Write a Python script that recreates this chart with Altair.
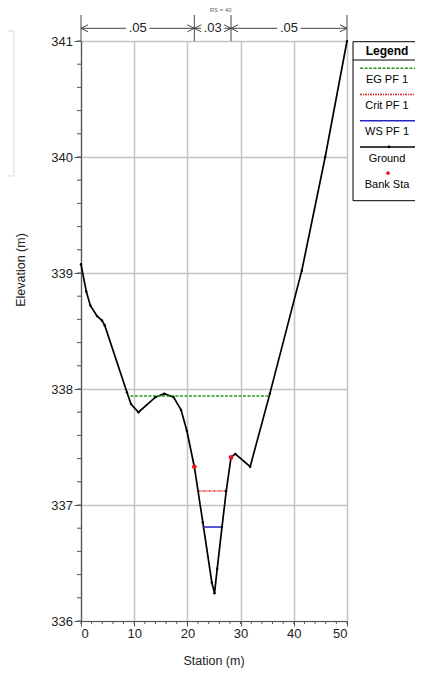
import altair as alt
import pandas as pd

# ---------------- data ----------------
station = [0, 1.0, 1.75, 3.0, 3.95, 4.45, 8.65, 9.4, 10.8, 14.0, 15.65, 17.4, 18.8,
           19.9, 21.3, 22.9, 24.6, 25.1, 25.6, 26.5, 27.3, 28.2, 29.0, 31.8, 35.5,
           41.5, 45.9, 50.0]
elevation = [339.075, 338.84, 338.72, 338.63, 338.59, 338.55, 337.97, 337.87, 337.80,
             337.93, 337.96, 337.93, 337.82, 337.64, 337.33, 336.85, 336.33, 336.24,
             336.45, 336.81, 337.12, 337.41, 337.44, 337.33, 337.96, 339.02, 340.0, 341.0]

bank_station = [21.3, 28.2]
bank_elev = [337.33, 337.41]

profile_names = ["EG PF 1", "Crit PF 1", "WS PF 1"]
profile_left = [9.3, 22.1, 22.9]
profile_right = [35.5, 27.3, 26.5]
profile_elev = [337.94, 337.12, 336.81]

n_values = [".05", ".03", ".05"]
n_bounds = [0, 21.3, 28.2, 50]
rs_label = "RS = 40"

x_ticks = [0, 10, 20, 30, 40, 50]
x_minor = [0, 2, 4, 6, 8, 10, 12, 14, 16, 18, 20, 22, 24, 26, 28, 30, 32, 34, 36, 38,
           40, 42, 44, 46, 48, 50]
y_ticks = [336, 337, 338, 339, 340, 341]
y_minor = [336.0, 336.2, 336.4, 336.6, 336.8, 337.0, 337.2, 337.4, 337.6, 337.8, 338.0,
           338.2, 338.4, 338.6, 338.8, 339.0, 339.2, 339.4, 339.6, 339.8, 340.0, 340.2,
           340.4, 340.6, 340.8, 341.0]

legend_title = "Legend"
legend_labels = ["EG PF 1", "Crit PF 1", "WS PF 1", "Ground", "Bank Sta"]

x_title = "Station (m)"
y_title = "Elevation (m)"

# ---------------- styling ----------------
FONT = "Liberation Sans"
W, H = 266, 580
GRID = "#c4c4c4"
AXC = "#555555"
TXT = "#222222"
EG_C, CRIT_C, WS_C = "#1f9a1f", "#e02020", "#2323c8"
EG_DASH, CRIT_DASH = [3, 1.5], [2, 1, 1, 1]

xs = alt.Scale(domain=[0, 50], nice=False, zero=False)
ys = alt.Scale(domain=[336, 341], nice=False, zero=False)

x_axis = alt.Axis(values=x_ticks, grid=True, gridColor=GRID, gridWidth=1.5,
                  domainColor=AXC, domainWidth=1.2, tickColor=AXC, tickSize=5,
                  labelFont=FONT, labelFontSize=13, labelColor=TXT, labelPadding=1,
                  title=None, format="d")
y_axis = alt.Axis(values=y_ticks, grid=True, gridColor=GRID, gridWidth=1.5,
                  domainColor=AXC, domainWidth=1.2, tickColor=AXC, tickSize=7,
                  labelFont=FONT, labelFontSize=13, labelColor=TXT, labelPadding=1.5,
                  title=None, format="d")


def X(f):
    return alt.X(f, scale=xs, axis=x_axis)


def Y(f):
    return alt.Y(f, scale=ys, axis=y_axis)


ground = pd.DataFrame({"st": station, "el": elevation})
banks = pd.DataFrame({"st": bank_station, "el": bank_elev})
prof = pd.DataFrame({"name": profile_names, "l": profile_left, "r": profile_right,
                     "el": profile_elev})

base_layer = alt.Chart(ground).mark_line(color="black", strokeWidth=1.7).encode(
    x=X("st:Q"), y=Y("el:Q"))
ground_pts = alt.Chart(ground).mark_point(filled=True, color="black", size=6, opacity=1).encode(
    x=X("st:Q"), y=Y("el:Q"))

minor_x = alt.Chart(pd.DataFrame({"v": x_minor})).mark_rule(color=AXC, strokeWidth=1).encode(
    x=X("v:Q"), y=alt.value(H), y2=alt.value(H + 3))
minor_y = alt.Chart(pd.DataFrame({"v": y_minor})).mark_rule(color=AXC, strokeWidth=1).encode(
    y=Y("v:Q"), x=alt.value(0), x2=alt.value(-4))


def prof_rule(i, color, dash=None):
    kw = dict(color=color, strokeWidth=1.5)
    if dash:
        kw["strokeDash"] = dash
    return alt.Chart(prof.iloc[[i]]).mark_rule(**kw).encode(
        x=X("l:Q"), x2="r:Q", y=Y("el:Q"))


eg = prof_rule(0, EG_C, EG_DASH)
crit = prof_rule(1, CRIT_C, CRIT_DASH)
ws = prof_rule(2, WS_C)

bank_pts = alt.Chart(banks).mark_point(filled=True, color="#e8141c", size=22, opacity=1).encode(
    x=X("st:Q"), y=Y("el:Q"))

# ---------------- Manning's n annotation above the plot ----------------
ARROW_Y = -12.7
GAP = 2.2
segs = []
for i in range(len(n_values)):
    a, b = n_bounds[i], n_bounds[i + 1]
    c = (a + b) / 2
    g = min(GAP, (b - a) / 2 - 0.8)
    segs.append({"a": a, "b": c - g})
    segs.append({"a": c + g, "b": b})
seg_df = pd.DataFrame(segs)
n_lines = alt.Chart(seg_df).mark_rule(color="#444444", strokeWidth=1).encode(
    x=X("a:Q"), x2="b:Q", y=alt.value(ARROW_Y))
bars = alt.Chart(pd.DataFrame({"v": n_bounds})).mark_rule(color="#444444", strokeWidth=1).encode(
    x=X("v:Q"), y=alt.value(-26), y2=alt.value(0))
n_text = alt.Chart(pd.DataFrame({
    "c": [(n_bounds[i] + n_bounds[i + 1]) / 2 for i in range(len(n_values))],
    "t": n_values})).mark_text(font=FONT, fontSize=13, color=TXT, baseline="middle").encode(
    x=X("c:Q"), y=alt.value(ARROW_Y), text="t:N")
left_arrows = alt.Chart(pd.DataFrame({"v": n_bounds[:-1]})).mark_point(
    shape="M1,-0.5L0,0L1,0.5", filled=False, color="#444444", strokeWidth=1, size=196,
    opacity=1).encode(x=X("v:Q"), y=alt.value(ARROW_Y))
right_arrows = alt.Chart(pd.DataFrame({"v": n_bounds[1:]})).mark_point(
    shape="M-1,-0.5L0,0L-1,0.5", filled=False, color="#444444", strokeWidth=1, size=196,
    opacity=1).encode(x=X("v:Q"), y=alt.value(ARROW_Y))
rs_text = alt.Chart(pd.DataFrame({"v": [(n_bounds[1] + n_bounds[2]) / 2 + 1.5], "t": [rs_label]})).mark_text(
    font=FONT, fontSize=6, color="#666666", baseline="middle").encode(
    x=X("v:Q"), y=alt.value(-31), text="t:N")

# ---------------- axis titles ----------------
one = pd.DataFrame({"t": [0]})
xt = alt.Chart(one).mark_text(text=x_title, font=FONT, fontSize=12.5, color=TXT,
                              baseline="middle").encode(x=alt.value(W / 2), y=alt.value(H + 40))
yt = alt.Chart(one).mark_text(text=y_title, font=FONT, fontSize=12.5, color=TXT,
                              baseline="middle", angle=270).encode(x=alt.value(-60), y=alt.value(229))

# faint box at far left (window artefact in reference)
faint = alt.Chart(one).mark_rect(fill="white", fillOpacity=0, stroke="#dcdcdc", strokeWidth=1).encode(
    x=alt.value(-100), x2=alt.value(-67), y=alt.value(-10), y2=alt.value(135))

# ---------------- legend box ----------------
LX0, LX1 = 272, 380
LCX = 306
STEP = 26.2
legend_box = alt.Chart(one).mark_rect(fill="white", stroke="black", strokeWidth=1).encode(
    x=alt.value(LX0), x2=alt.value(LX1), y=alt.value(0.7), y2=alt.value(159.7))
legend_sep = alt.Chart(one).mark_rule(color="black", strokeWidth=1).encode(
    x=alt.value(LX0), x2=alt.value(LX1), y=alt.value(19), y2=alt.value(19))
legend_head = alt.Chart(one).mark_text(text=legend_title, font=FONT, fontSize=12,
                                       fontWeight="bold", color="black", baseline="middle").encode(
    x=alt.value(LCX), y=alt.value(9.5))
lab_df = pd.DataFrame({"t": legend_labels,
                       "ly": [39 + i * STEP for i in range(len(legend_labels))],
                       "lx": [LCX] * len(legend_labels)})
legend_text = alt.Chart(lab_df).mark_text(font=FONT, fontSize=11, color="black",
                                          baseline="middle").encode(
    x=alt.X("lx:Q", scale=None), y=alt.Y("ly:Q", scale=None), text="t:N")


def leg_line(i, color, dash=None, width=1.5):
    kw = dict(color=color, strokeWidth=width)
    if dash:
        kw["strokeDash"] = dash
    yy = 27.3 + i * STEP
    return alt.Chart(one).mark_rule(**kw).encode(
        x=alt.value(LX0 + 7), x2=alt.value(LX1), y=alt.value(yy), y2=alt.value(yy))


leg_eg = leg_line(0, EG_C, EG_DASH)
leg_crit = leg_line(1, CRIT_C, CRIT_DASH)
leg_ws = leg_line(2, WS_C)
leg_gr = leg_line(3, "black", None, 1.5)
leg_gr_dot = alt.Chart(one).mark_point(filled=True, color="black", size=8, opacity=1).encode(
    x=alt.value(LCX + 2), y=alt.value(27.3 + 3 * STEP))
leg_bank = alt.Chart(one).mark_point(filled=True, color="#e8141c", size=14, opacity=1).encode(
    x=alt.value(LCX + 1), y=alt.value(27.3 + 4 * STEP))

chart = alt.layer(
    base_layer, minor_x, minor_y, eg, crit, ws, ground_pts, bank_pts,
    n_lines, bars, n_text, left_arrows, right_arrows, rs_text, xt, yt, faint,
    legend_box, legend_sep, legend_head, legend_text, leg_eg, leg_crit, leg_ws,
    leg_gr, leg_gr_dot, leg_bank,
).properties(
    width=W, height=H,
    autosize=alt.AutoSizeParams(type="none"),
    padding={"left": 73, "top": 33, "right": 68, "bottom": 48},
).configure_view(stroke=None).configure(background="white")

chart.save("out.html", embed_options={"renderer": "svg", "actions": False})
